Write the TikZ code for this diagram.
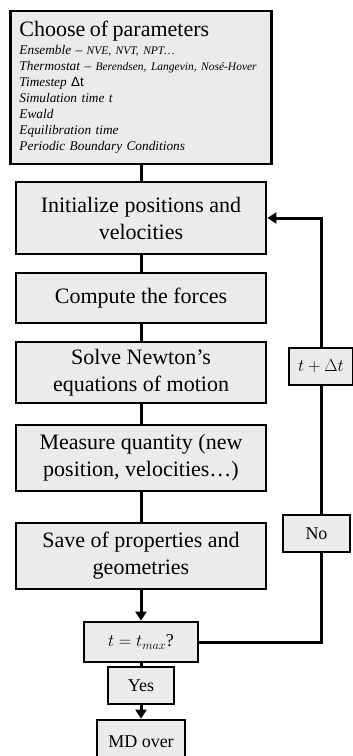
\documentclass[tikz,border=0pt]{standalone}
\usepackage{fontspec}
\setmainfont{Liberation Serif}
\newfontfamily\deltafont{Liberation Sans}
\usetikzlibrary{arrows.meta,positioning}
\definecolor{boxgray}{gray}{0.92}
\tikzset{
  parambox/.style={draw=black, fill=boxgray, line width=2.8pt, minimum width=261pt, minimum height=153pt, text width=243pt, inner sep=0pt, align=left, font=\fontsize{13.3}{16}\selectfont\itshape},
  stepbox/.style={draw=black, fill=boxgray, line width=2.8pt, minimum width=250pt, inner sep=0pt, align=center, font=\fontsize{22}{27}\selectfont},
  smallbox/.style={draw=black, fill=boxgray, line width=2.8pt, inner sep=0pt, align=center, font=\fontsize{18}{20}\selectfont},
  link/.style={line width=3pt},
  arrow/.style={-{Triangle[length=9pt,width=11pt]}, line width=3pt}
}

\begin{document}
\begin{tikzpicture}[x=1pt,y=-1pt]
  \useasboundingbox (0,0) rectangle (353,756);
  \node[parambox] (params) at (141,87.5) {{\fontsize{22}{22}\selectfont\upshape Choose of parameters}\\[2pt]
    Ensemble -- {\fontsize{11.5}{16}\selectfont NVE, NVT, NPT…}\\
    Thermostat -- {\fontsize{11.5}{16}\selectfont Berendsen, Langevin, Nosé-Hover}\\
    Timestep {\deltafont\upshape Δt}\\
    Simulation time t\\
    Ewald\\
    Equilibration time\\
    Periodic Boundary Conditions};
  \node[stepbox, minimum height=72pt] (init) at (141,218) {Initialize positions and\\velocities};
  \node[stepbox, minimum height=50pt] (forces) at (141,298) {Compute the forces};
  \node[stepbox, minimum height=61pt] (newton) at (141,372.5) {Solve Newton’s\\equations of motion};
  \node[stepbox, minimum height=66pt] (measure) at (141,458) {Measure quantity (new\\position, velocities…)};
  \node[stepbox, minimum height=66pt] (save) at (141,556) {Save of properties and\\geometries};
  \node[smallbox, minimum width=114pt, minimum height=40pt] (tmax) at (141,642) {$t=t_{max}$?};
  \node[smallbox, minimum width=66pt, minimum height=37pt] (yes) at (141,685.5) {Yes};
  \node[smallbox, minimum width=88pt, minimum height=44pt] (over) at (141,742) {MD over};
  \node[smallbox, minimum width=64pt, minimum height=37pt] (dt) at (321,366.5) {$t+\Delta t$};
  \node[smallbox, minimum width=67pt, minimum height=37pt] (no) at (316.5,533.5) {No};
  % main chain
  \draw[link] (params) -- (init);
  \draw[link] (init) -- (forces);
  \draw[link] (forces) -- (newton);
  \draw[link] (newton) -- (measure);
  \draw[link] (measure) -- (save);
  \draw[arrow] (save) -- (tmax);
  \draw[link] (tmax) -- (yes);
  \draw[arrow] (yes) -- (over);
  % loop back
  \draw[link] (tmax.east) -| (no.south -| dt.south);
  \draw[link] (no.north -| dt.south) -- (dt.south);
  \draw[arrow] (dt.north) |- (init.east);
\end{tikzpicture}
\end{document}
